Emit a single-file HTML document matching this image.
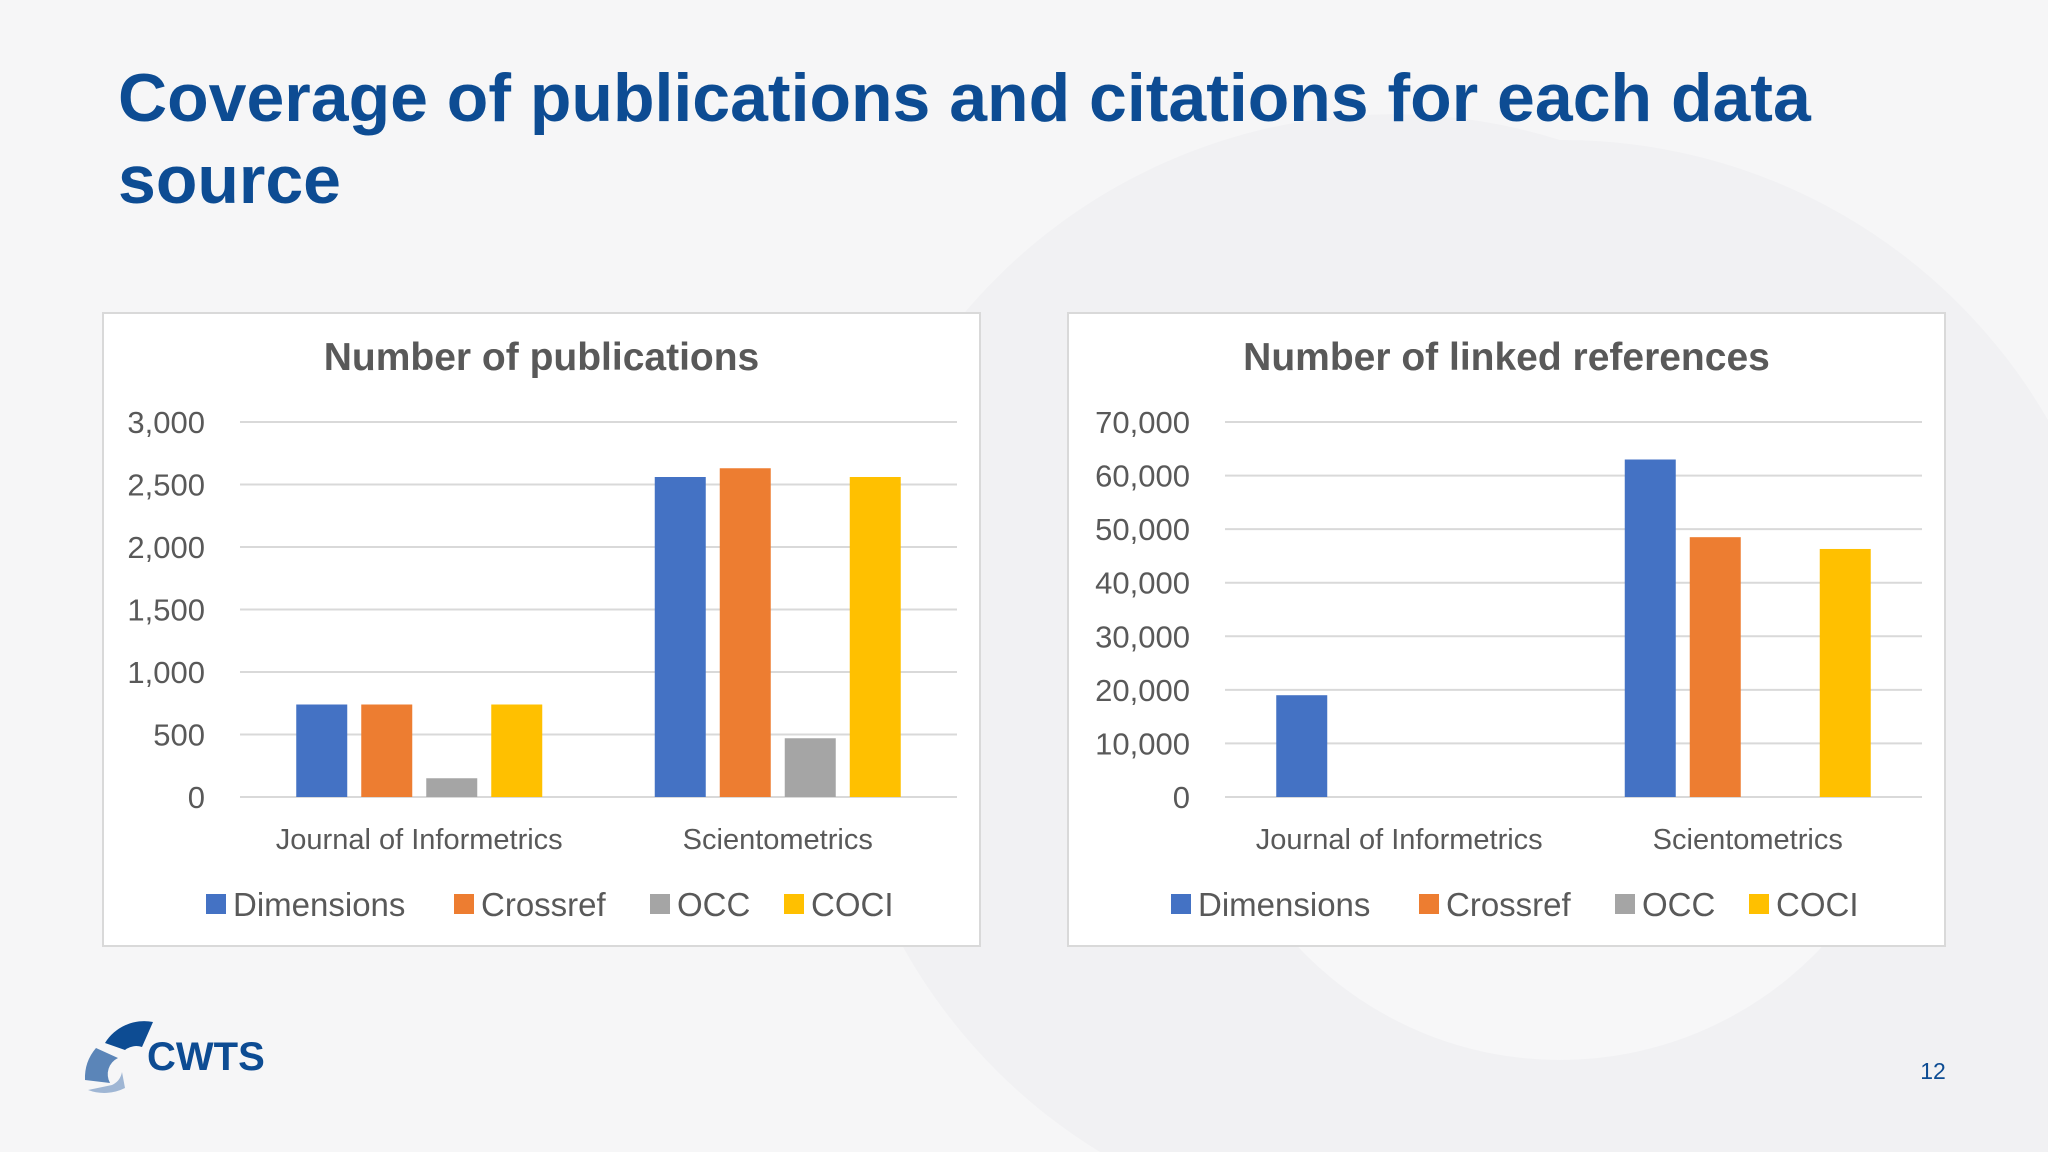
<!DOCTYPE html>
<html><head><meta charset="utf-8"><style>
html,body{margin:0;padding:0;width:2048px;height:1152px;overflow:hidden;background:#f6f6f7;font-family:"Liberation Sans",sans-serif}
svg{position:absolute;left:0;top:0;display:block;overflow:hidden}
</style></head><body>
<svg id="s" width="2048" height="1152" viewBox="0 0 2048 1152">
<path d="M1560,140 A560,560 0 0 1 2048,420 L2048,1152 L1100,1152 A560,560 0 0 1 1560,140 Z" fill="#f1f1f3"/>
<circle cx="1560" cy="700" r="360" fill="#f7f7f8"/>
<text x="118" y="121" font-size="68" font-weight="bold" fill="#0d4c93">Coverage of publications and citations for each data</text>
<text x="118" y="203" font-size="68" font-weight="bold" fill="#0d4c93">source</text>
<g>
<path d="M105,1043 A46,46 0 0 1 153,1022 L142,1047 A18,18 0 0 0 125,1050 Z" fill="#0d4c93"/>
<path d="M96,1048 A46,46 0 0 0 85,1080 L110,1083 A18,18 0 0 1 118,1058 Z" fill="#5b85b8"/>
<path d="M88,1090 A46,46 0 0 0 125,1088 L122,1072 A18,18 0 0 1 112,1085 Z" fill="#9fb6d4"/>
<text x="147" y="1070" font-size="40" font-weight="bold" fill="#0d4c93">CWTS</text>
</g>
<text x="1933" y="1079" font-size="23" fill="#0d4c93" text-anchor="middle">12</text>
<g id="c1"></g><g id="c2"></g>
</svg>
<script>
const categories=["Journal of Informetrics","Scientometrics"];
const seriesNames=["Dimensions","Crossref","OCC","COCI"];
const colors=["#4472c4","#ed7d31","#a5a5a5","#ffc000"];
const pubDimensions=[740,2560];
const pubCrossref=[740,2630];
const pubOCC=[150,470];
const pubCOCI=[740,2560];
const pubTicks=["0","500","1,000","1,500","2,000","2,500","3,000"];
const refDimensions=[19000,63000];
const refCrossref=[0,48500];
const refOCC=[0,0];
const refCOCI=[0,46300];
const refTicks=["0","10,000","20,000","30,000","40,000","50,000","60,000","70,000"];
const NS="http://www.w3.org/2000/svg";
function mk(p,t,a){const e=document.createElementNS(NS,t);for(const k in a)e.setAttribute(k,a[k]);p.appendChild(e);return e;}
function chart(g,box,title,series,ticks,max){
 const [bx,by,bw,bh]=box;
 const fr=mk(g,"rect",{x:bx,y:by,width:bw,height:bh,fill:"#fff",stroke:"#d9d9d9","stroke-width":2});
 
 
 const t=mk(g,"text",{x:bx+bw/2,y:by+57,"font-size":39,"font-weight":"bold",fill:"#595959","text-anchor":"middle"});t.textContent=title;
 
 
 const px0=bx+(title.includes("linked")?157:137),px1=bx+bw-23,yb=by+484,yt=by+109;
 const ys=v=>yb-(v/max)*(yb-yt);
 const step=max/(ticks.length-1);
 ticks.forEach((lb,i)=>{const y=ys(i*step);
  const l=mk(g,"line",{x1:px0,x2:px1,y1:y,y2:y,stroke:"#d9d9d9","stroke-width":2});
  
  
  const tx=mk(g,"text",{x:px0-35,y:y+11,"font-size":31,fill:"#595959","text-anchor":"end"});tx.textContent=lb;
  
  });
 const cw=(px1-px0)/categories.length,bwid=51,gap=65;
 categories.forEach((c,ci)=>{const cx=px0+cw*(ci+0.5);
  series.forEach((s,si)=>{const v=s[ci];if(!v)return;const x=cx+(si-1.5)*gap-bwid/2;
   const r=mk(g,"rect",{x:x,y:ys(v),width:bwid,height:yb-ys(v),fill:colors[si]});
   
   });
  const ct=mk(g,"text",{x:cx,y:by+536,"font-size":29,fill:"#595959","text-anchor":"middle"});ct.textContent=c;
  
  });
 const lx=[bx+103,bx+351,bx+547,bx+681];
 seriesNames.forEach((n,i)=>{
  const sq=mk(g,"rect",{x:lx[i],y:by+581,width:20,height:20,fill:colors[i]});
  
  
  const lt=mk(g,"text",{x:lx[i]+27,y:by+603,"font-size":33,fill:"#595959"});lt.textContent=n;
  
  });
}
chart(document.getElementById("c1"),[103,313,877,633],"Number of publications",[pubDimensions,pubCrossref,pubOCC,pubCOCI],pubTicks,3000);
chart(document.getElementById("c2"),[1068,313,877,633],"Number of linked references",[refDimensions,refCrossref,refOCC,refCOCI],refTicks,70000);
</script>
</body></html>
